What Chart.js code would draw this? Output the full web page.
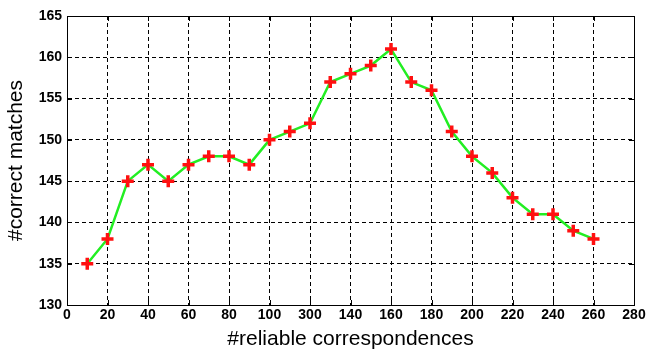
<!DOCTYPE html>
<html>
<head>
<meta charset="utf-8">
<script src="https://cdn.jsdelivr.net/npm/chart.js@4/dist/chart.umd.min.js"></script>
<style>
  html, body { margin: 0; padding: 0; background: #fff; }
  #wrap { width: 649px; height: 350px; }
</style>
</head>
<body>
<div id="wrap"><canvas id="matches-chart"></canvas></div>
<script>
// data
const reliable = [10, 20, 30, 40, 50, 60, 70, 80, 90, 100, 110, 120, 130, 140, 150, 160, 170, 180, 190, 200, 210, 220, 230, 240, 250, 260];
const correct = [135, 138, 145, 147, 145, 147, 148, 148, 147, 150, 151, 152, 157, 158, 159, 161, 157, 156, 151, 148, 146, 143, 141, 141, 139, 138];
// x tick labels as printed (the 120 tick reads "300" in the original)
const xTickLabels = ['0', '20', '40', '60', '80', '100', '300', '140', '160', '180', '200', '220', '240', '260', '280'];
const yTickLabels = ['130', '135', '140', '145', '150', '155', '160', '165'];

const tickFont = { family: 'Liberation Sans', size: 14, weight: 'bold' };
const titleFont = { family: 'Liberation Sans', size: 21 };

// solid box + inward tick marks like matlab
const boxPlugin = {
    id: 'box',
    afterDraw(chart) {
        const { ctx, chartArea: a, scales } = chart;
        ctx.save();
        ctx.strokeStyle = '#000';
        ctx.lineWidth = 1;
        ctx.setLineDash([]);
        ctx.strokeRect(a.left + 0.5, a.top + 0.5, a.right - a.left, a.bottom - a.top);
        ctx.beginPath();
        scales.x.ticks.forEach(t => {
            const px = Math.round(scales.x.getPixelForValue(t.value)) + 0.5;
            ctx.moveTo(px, a.bottom); ctx.lineTo(px, a.bottom - 5);
            ctx.moveTo(px, a.top); ctx.lineTo(px, a.top + 5);
        });
        scales.y.ticks.forEach(t => {
            const py = Math.round(scales.y.getPixelForValue(t.value)) + 0.5;
            ctx.moveTo(a.left, py); ctx.lineTo(a.left + 5, py);
            ctx.moveTo(a.right, py); ctx.lineTo(a.right - 5, py);
        });
        ctx.stroke();
        ctx.restore();
    }
};

const ctx = document.getElementById('matches-chart').getContext('2d');
const matchesChart = new Chart(ctx, {
    type: 'line',
    data: {
        datasets: [{
            data: reliable.map((x, i) => ({ x: x, y: correct[i] })),
            borderColor: '#22ee22',
            borderWidth: 2.5,
            pointStyle: 'cross',
            pointRadius: 6,
            pointBorderWidth: 3.5,
            pointBorderColor: '#ff1010',
            pointBackgroundColor: '#ff1010',
            tension: 0
        }]
    },
    options: {
        animation: false,
        responsive: true,
        maintainAspectRatio: false,
        layout: { padding: { top: 16, right: 15, left: 0, bottom: 0 } },
        plugins: { legend: { display: false }, tooltip: { enabled: false } },
        scales: {
            x: {
                type: 'linear',
                min: 0, max: 280,
                afterFit(scale) { scale.height = 45; },
                ticks: {
                    stepSize: 20,
                    color: '#000',
                    font: tickFont,
                    maxRotation: 0,
                    padding: 2,
                    callback: (v) => xTickLabels[Math.round(v / 20)]
                },
                grid: { color: '#000', lineWidth: 1, drawTicks: false },
                border: { display: true, color: '#000', dash: [4, 3] },
                title: {
                    display: true,
                    text: '#reliable correspondences',
                    color: '#000',
                    font: titleFont,
                    padding: { top: 0, bottom: -2 }
                }
            },
            y: {
                min: 130, max: 165,
                afterFit(scale) { scale.width = 67; },
                ticks: {
                    stepSize: 5,
                    color: '#000',
                    font: tickFont,
                    padding: 5,
                    callback: (v) => yTickLabels[Math.round((v - 130) / 5)]
                },
                grid: { color: '#000', lineWidth: 1, drawTicks: false },
                border: { display: true, color: '#000', dash: [4, 3] },
                title: {
                    display: true,
                    text: '#correct matches',
                    color: '#000',
                    font: titleFont,
                    padding: { top: 4, bottom: 0 }
                }
            }
        }
    },
    plugins: [boxPlugin]
});
</script>
</body>
</html>
